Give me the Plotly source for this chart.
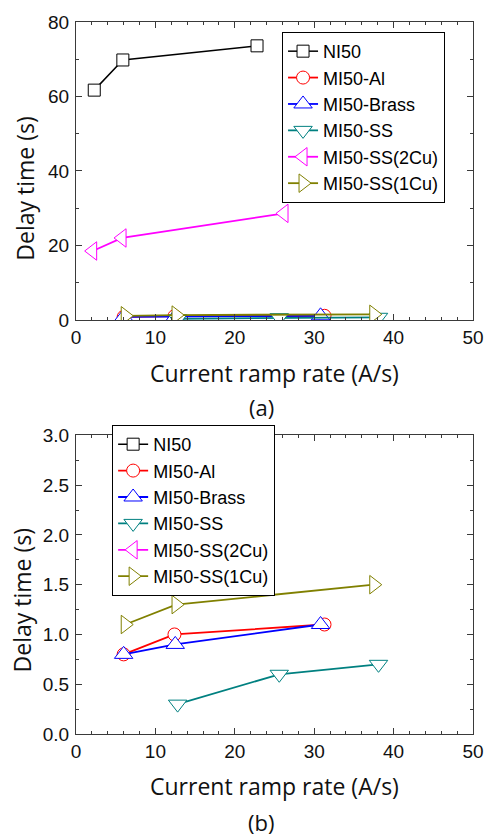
import plotly.graph_objects as go

# Delay time vs. current ramp rate for each insulation variant
series_names = ["NI50", "MI50-Al", "MI50-Brass", "MI50-SS", "MI50-SS(2Cu)", "MI50-SS(1Cu)"]

ni50_rate = [2.3, 5.9, 22.8]
ni50_delay = [61.7, 69.8, 73.6]

al_rate = [6.0, 12.4, 31.3]
al_delay = [0.8, 1.0, 1.1]

brass_rate = [6.0, 12.5, 30.8]
brass_delay = [0.8, 0.9, 1.1]

ss_rate = [12.8, 25.6, 38.1]
ss_delay = [0.3, 0.6, 0.7]

ss2cu_rate = [2.1, 5.8, 26.2]
ss2cu_delay = [18.5, 22.0, 28.6]

ss1cu_rate = [6.2, 12.6, 37.5]
ss1cu_delay = [1.1, 1.3, 1.5]

x_ticks = [0, 10, 20, 30, 40, 50]
y_ticks_top = [0, 20, 40, 60, 80]
y_ticks_bottom = [0.0, 0.5, 1.0, 1.5, 2.0, 2.5, 3.0]

rates = [ni50_rate, al_rate, brass_rate, ss_rate, ss2cu_rate, ss1cu_rate]
delays = [ni50_delay, al_delay, brass_delay, ss_delay, ss2cu_delay, ss1cu_delay]
colors = ["#000000", "#FF0000", "#0000FF", "#008080", "#FF00FF", "#808000"]
symbols = ["square", "circle", "triangle-up", "triangle-down", "triangle-left", "triangle-right"]
sizes = [12, 13, 16, 16, 16, 16]

fig = go.Figure()

for panel, (xa, ya, lg) in enumerate([("x", "y", "legend"), ("x2", "y2", "legend2")]):
    for name, xs, ys, c, s, sz in zip(series_names, rates, delays, colors, symbols, sizes):
        fig.add_trace(go.Scatter(
            x=xs, y=ys, name=name, mode="lines+markers",
            xaxis=xa, yaxis=ya, legend=lg,
            line=dict(color=c, width=1.8 if name != "NI50" else 1.5),
            marker=dict(symbol=s, size=sz, color="white",
                        line=dict(color=c, width=1)),
        ))

axis_color = "#3a3a3a"
tick_font = dict(family="Liberation Sans, Arial, sans-serif", size=19, color="#111111")
title_font = dict(family="Open Sans, Noto Sans, sans-serif", size=23, color="#111111")

common_x = dict(
    range=[0, 50], tickvals=x_ticks, ticks="inside", ticklen=6, tickwidth=1,
    tickcolor=axis_color, showline=True, linecolor=axis_color, linewidth=1,
    mirror="allticks", showgrid=False, zeroline=False, tickfont=tick_font,
    minor=dict(dtick=2, tick0=0, ticks="inside", ticklen=3, tickcolor=axis_color),
)
common_y = dict(
    ticks="inside", ticklen=6, tickwidth=1, tickcolor=axis_color,
    showline=True, linecolor=axis_color, linewidth=1, mirror="allticks",
    showgrid=False, zeroline=False, tickfont=tick_font, ticklabelstandoff=2,
)

legend_style = dict(
    bgcolor="white", bordercolor="#000000", borderwidth=1,
    font=dict(family="Liberation Sans, Arial, sans-serif", size=18, color="#000000"),
    tracegroupgap=0, xanchor="left", yanchor="top",
)

fig.update_layout(
    width=496, height=839,
    margin=dict(l=76, r=12, t=17, b=105),
    paper_bgcolor="white", plot_bgcolor="white",
    xaxis=dict(common_x, domain=[0, 1], anchor="y"),
    yaxis=dict(common_y, domain=[0.5816, 1.0], anchor="x", range=[0, 80],
               tickvals=y_ticks_top,
               minor=dict(dtick=10, tick0=0, ticks="inside", ticklen=3, tickcolor=axis_color)),
    xaxis2=dict(common_x, domain=[0, 1], anchor="y2"),
    yaxis2=dict(common_y, domain=[0.0, 0.4194], anchor="x2", range=[0, 3],
                tickvals=y_ticks_bottom, tickformat=".1f",
                minor=dict(dtick=0.25, tick0=0, ticks="inside", ticklen=3, tickcolor=axis_color)),
    legend=dict(legend_style, x=0.519, y=0.986),
    legend2=dict(legend_style, x=0.091, y=0.434),
    showlegend=True,
)

labels = [
    ("Current ramp rate (A/s)", 0.5, 0.5077, 0, title_font),
    ("(a)", 0.467, 0.4589, 0, dict(title_font, size=22)),
    ("Delay time (s)", -0.1287, 0.7657, -90, title_font),
    ("Current ramp rate (A/s)", 0.5, -0.0735, 0, title_font),
    ("(b)", 0.467, -0.124, 0, dict(title_font, size=22)),
    ("Delay time (s)", -0.137, 0.187, -90, title_font),
]
for text, x, y, ang, f in labels:
    fig.add_annotation(text=text, x=x, y=y, xref="paper", yref="paper",
                       xanchor="center", yanchor="middle", showarrow=False,
                       textangle=ang, font=f)

fig.write_html("out.html")
